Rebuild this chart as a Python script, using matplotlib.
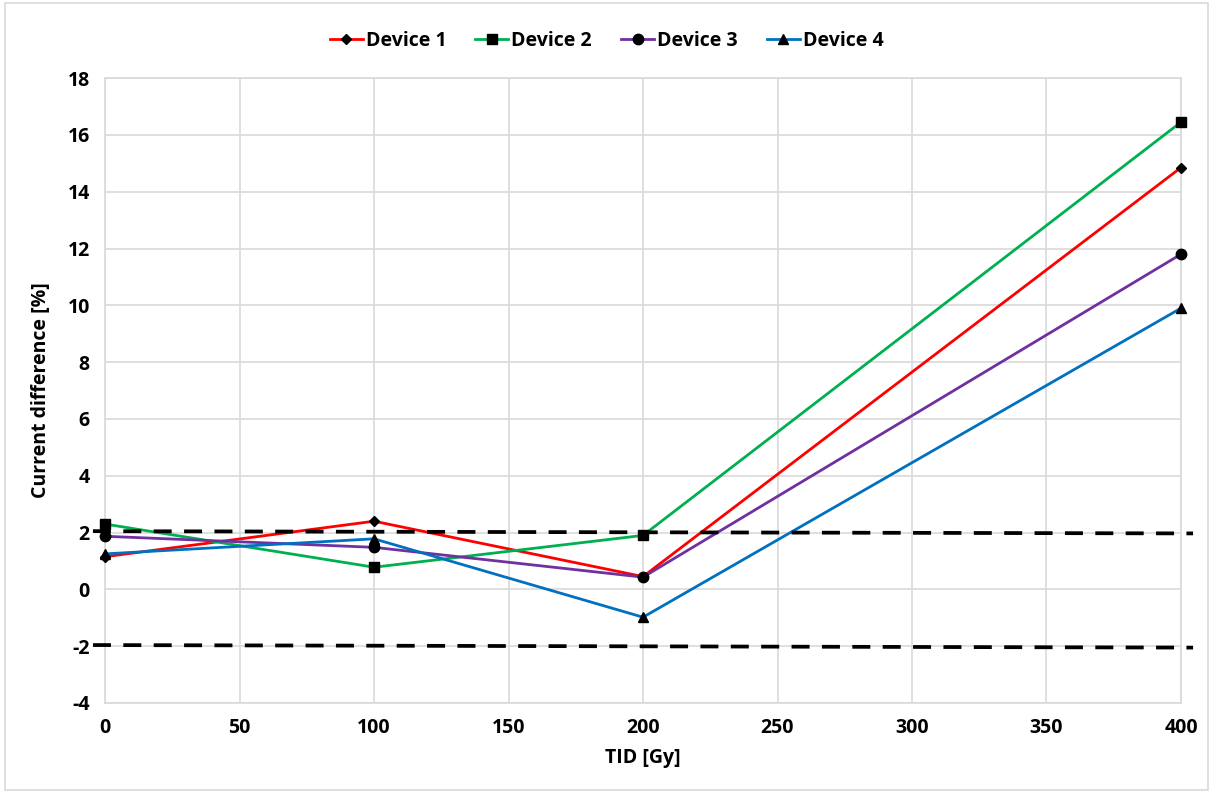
import matplotlib
matplotlib.use("Agg")
import matplotlib.pyplot as plt
from matplotlib.patches import Rectangle

plt.rcParams['font.family'] = ['Open Sans', 'DejaVu Sans']
plt.rcParams['axes.unicode_minus'] = False

tid = [0, 100, 200, 400]
device1 = [1.15, 2.4, 0.45, 14.85]
device2 = [2.3, 0.78, 1.9, 16.45]
device3 = [1.87, 1.48, 0.43, 11.8]
device4 = [1.25, 1.78, -0.98, 9.9]
series_names = ["Device 1", "Device 2", "Device 3", "Device 4"]
colors = ["#FF0000", "#00B050", "#7030A0", "#0070C0"]
markers = ["D", "s", "o", "^"]
msizes = [5, 7, 7.5, 7]

thr_x = [-4.5, 404.5]
thr_upper = [2.05, 1.97]
thr_lower = [-1.96, -2.05]

xticks = [0, 50, 100, 150, 200, 250, 300, 350, 400]
yticks = [-4, -2, 0, 2, 4, 6, 8, 10, 12, 14, 16, 18]

fig = plt.figure(figsize=(12.13, 7.93), dpi=100)
ax = fig.add_axes([0.0866, 0.1135, 0.887, 0.788])

for name, ys, c, m, ms in zip(series_names, [device1, device2, device3, device4], colors, markers, msizes):
    ax.plot(tid, ys, color=c, lw=2, marker=m, markersize=ms,
            markerfacecolor='black', markeredgecolor='black', label=name, zorder=3, clip_on=False)

ax.plot(thr_x, thr_upper, color='black', lw=2.7, ls=(0, (4.8, 3.3)), clip_on=False, zorder=4)
ax.plot(thr_x, thr_lower, color='black', lw=2.7, ls=(0, (4.8, 3.3)), clip_on=False, zorder=4)

ax.set_xlim(0, 400)
ax.set_ylim(-4, 18)
ax.set_xticks(xticks)
ax.set_yticks(yticks)
ax.grid(True, color='#D9D9D9', lw=1.2)
ax.set_axisbelow(True)
for s in ax.spines.values():
    s.set_color('#D9D9D9')
    s.set_linewidth(1.2)
ax.tick_params(length=0, labelsize=14, pad=11)
for lbl in ax.get_xticklabels() + ax.get_yticklabels():
    lbl.set_fontweight('bold')
ax.set_xlabel("TID [Gy]", fontsize=14, fontweight='bold', labelpad=7)
ax.set_ylabel("Current difference [%]", fontsize=14, fontweight='bold', labelpad=12)

leg = fig.legend(loc='upper center', bbox_to_anchor=(0.5, 0.983), ncol=4, frameon=False,
                 prop={'size': 14, 'weight': 'bold'}, handlelength=1.7, columnspacing=1.5,
                 handletextpad=0.15)

fig.patches.append(Rectangle((0.004, 0.004), 0.992, 0.992, transform=fig.transFigure,
                             fill=False, edgecolor='#D9D9D9', lw=1.2))

fig.savefig("out.png", dpi=100, facecolor='white')
